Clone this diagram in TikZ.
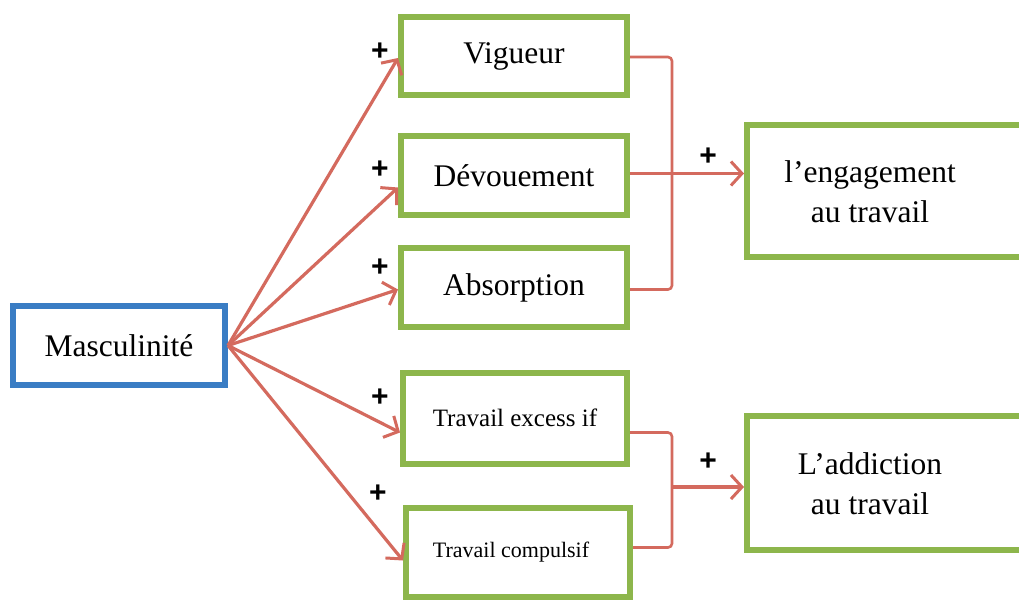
\documentclass[tikz,border=0pt]{standalone}
\usepackage{fontspec}
\setmainfont{Liberation Serif}
\newfontfamily\plusfont{Liberation Sans}
\usetikzlibrary{arrows.meta}
\definecolor{boxgreen}{RGB}{141,182,76}
\definecolor{boxblue}{RGB}{58,125,196}
\definecolor{linered}{RGB}{212,106,94}
\tikzset{
  gbox/.style={draw=boxgreen, line width=6pt, fill=white, inner sep=0pt},
  bbox/.style={draw=boxblue, line width=6pt, fill=white, inner sep=0pt},
  lbl/.style={font=\fontsize{31.5}{40}\selectfont, align=center},
  conn/.style={draw=linered, line width=3.2pt, -{Straight Barb[length=11pt,width=24pt,line width=3pt]}},
  brk/.style={draw=linered, line width=2.6pt, rounded corners=4pt},
  plus/.style={font=\plusfont\bfseries\fontsize{30}{30}\selectfont, inner sep=0pt}
}
\begin{document}
\begin{tikzpicture}[x=1pt,y=-1pt]
\useasboundingbox (0,0) rectangle (1019,603);
\fill[white] (0,0) rectangle (1019,603);
% boxes
\node[bbox, minimum width=212pt, minimum height=79pt, lbl] (masc) at (119,345.5) {Masculinité};
\node[gbox, minimum width=226pt, minimum height=78pt, lbl] (vig) at (514,56) {Vigueur};
\node[gbox, minimum width=226pt, minimum height=79pt, lbl] (dev) at (514,175.5) {Dévouement};
\node[gbox, minimum width=226pt, minimum height=79pt, lbl] (abs) at (514,287.5) {Absorption};
\node[gbox, minimum width=224pt, minimum height=91pt] (exc) at (515,418.5) {};
\node[font=\fontsize{25}{28}\selectfont] (exct) at (515,418) {Travail excess if};
\node[gbox, minimum width=224pt, minimum height=89pt] (comp) at (518,552.5) {};
\node[font=\fontsize{22}{26}\selectfont] (compt) at (511,552) {Travail compulsif};
\node[gbox, minimum width=280pt, minimum height=132pt] (eng) at (887,191) {};
\node[lbl] (engt) at (870,192) {l’engagement\\au travail};
\node[gbox, minimum width=280pt, minimum height=134pt] (add) at (887,483) {};
\node[lbl] (addt) at (870,484) {L’addiction\\au travail};
% arrows from Masculinité
\draw[conn] (masc.east) -- ([yshift=-2pt]vig.west);
\draw[conn] (masc.east) -- ([yshift=-12pt]dev.west);
\draw[conn] (masc.east) -- ([yshift=-2pt]abs.west);
\draw[conn] (masc.east) -- ([yshift=-14pt]exc.west);
\draw[conn] (masc.east) -- ([yshift=-8pt]comp.west);
% brackets
\coordinate (vr) at ([yshift=-1pt]vig.east);
\coordinate (ar) at ([yshift=-2pt]abs.east);
\coordinate (er) at ([yshift=-14pt]exc.east);
\coordinate (cr) at ([yshift=5pt]comp.east);
\coordinate (bx1) at (672,0);
\coordinate (bx2) at (672,0);
\coordinate (ja) at (672,487);
\draw[brk] (vr) -| (bx1 |- ar) -- (ar);
\draw[conn] ([yshift=2pt]dev.east) -- ([yshift=2pt]dev.east -| eng.west);
\draw[brk] (er) -| (bx2 |- cr) -- (cr);
\draw[conn] (ja) -- (ja -| add.west);
% plus signs
\node[plus] (p1) at (380,52) {+};
\node[plus] (p2) at (380,170) {+};
\node[plus] (p3) at (380,268) {+};
\node[plus] (p4) at (380,398) {+};
\node[plus] (p5) at (378,494) {+};
\node[plus] (p6) at (708,157) {+};
\node[plus] (p7) at (708,462) {+};
\end{tikzpicture}
\end{document}
